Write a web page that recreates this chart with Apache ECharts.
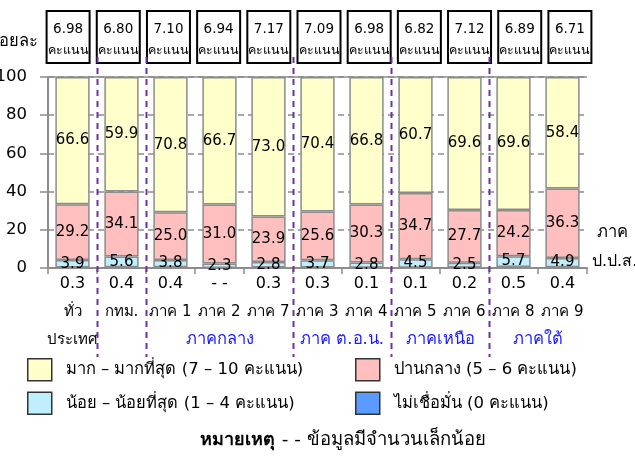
<!DOCTYPE html>
<html>
<head>
<meta charset="utf-8">
<script src="https://cdn.jsdelivr.net/npm/echarts@6/dist/echarts.min.js"></script>
<style>html,body{margin:0;padding:0;background:#fff;}#c{width:635px;height:461px;}</style>
</head>
<body>
<div id="c"></div>
<script>
const categories = ['ทั่วประเทศ', 'กทม.', 'ภาค 1', 'ภาค 2', 'ภาค 7', 'ภาค 3', 'ภาค 4', 'ภาค 5', 'ภาค 6', 'ภาค 8', 'ภาค 9'];
const scores = ['6.98', '6.80', '7.10', '6.94', '7.17', '7.09', '6.98', '6.82', '7.12', '6.89', '6.71'];
const high = [66.6, 59.9, 70.8, 66.7, 73.0, 70.4, 66.8, 60.7, 69.6, 69.6, 58.4];
const medium = [29.2, 34.1, 25.0, 31.0, 23.9, 25.6, 30.3, 34.7, 27.7, 24.2, 36.3];
const low = [3.9, 5.6, 3.8, 2.3, 2.8, 3.7, 2.8, 4.5, 2.5, 5.7, 4.9];
const none = [0.3, 0.4, 0.4, null, 0.3, 0.3, 0.1, 0.1, 0.2, 0.5, 0.4];
const yTicks = [0, 20, 40, 60, 80, 100];
const groups = [
  { name: 'ภาคกลาง', from: 2, to: 4 },
  { name: 'ภาค ต.อ.น.', from: 5, to: 6 },
  { name: 'ภาคเหนือ', from: 7, to: 8 },
  { name: 'ภาคใต้', from: 9, to: 10 }
];
const dividersAfter = [0, 1, 4, 6, 8];
const seriesNames = ['มาก – มากที่สุด (7 – 10 คะแนน)', 'ปานกลาง (5 – 6 คะแนน)', 'น้อย – น้อยที่สุด (1 – 4 คะแนน)', 'ไม่เชื่อมั่น (0 คะแนน)'];

const FONT = "'DejaVu Sans', Tahoma, 'Noto Sans', sans-serif";
const colors = { high: '#FFFFCC', medium: '#FFBFBF', low: '#BFEFFF', none: '#5B9BFF' };
const border = { borderColor: '#8C8C8C', borderWidth: 1.5 };
const label = { show: true, position: 'inside', color: '#000', fontSize: 15, fontFamily: FONT,
  formatter: p => p.value.toFixed(1) };

const chart = echarts.init(document.getElementById('c'), null, { renderer: 'canvas' });

const catLabel = (v, i) => {
  const nv = none[i] == null ? '- -' : none[i].toFixed(1);
  const name = v === 'ทั่วประเทศ' ? '{n|ทั่ว}\n{n|ประเทศ}' : '{n|' + v + '}';
  return '{v|' + nv + '}\n' + name;
};

chart.setOption({
  animation: false,
  textStyle: { fontFamily: FONT },
  grid: [
    { left: 48, right: 48, top: 77, bottom: 193, outerBoundsMode: 'none', containLabel: false },
    { left: 43, right: 40, top: 77, bottom: 193, outerBoundsMode: 'none', containLabel: false }
  ],
  legend: [
    { data: [seriesNames[0], seriesNames[2]], orient: 'vertical', left: 27, top: 358, padding: 0,
      itemWidth: 24, itemHeight: 22, itemGap: 10, icon: 'rect',
      itemStyle: { borderColor: '#333', borderWidth: 1.5 },
      textStyle: { fontSize: 16.5, color: '#000', fontFamily: FONT, padding: [0, 0, 0, 9] } },
    { data: [seriesNames[1], seriesNames[3]], orient: 'vertical', left: 355, top: 358, padding: 0,
      itemWidth: 24, itemHeight: 22, itemGap: 10, icon: 'rect',
      itemStyle: { borderColor: '#333', borderWidth: 1.5 },
      textStyle: { fontSize: 16.5, color: '#000', fontFamily: FONT, padding: [0, 0, 0, 9] } }
  ],
  xAxis: [
    { type: 'category', data: categories, gridIndex: 0,
      axisLine: { lineStyle: { color: '#8C8C8C', width: 2 } },
      axisTick: { show: true, length: 6, lineStyle: { color: '#8C8C8C', width: 1.5 } },
      axisLabel: { margin: 2, interval: 0, formatter: catLabel,
        rich: { v: { fontSize: 16, lineHeight: 28, color: '#000', fontFamily: FONT },
                n: { fontSize: 15, lineHeight: 28, color: '#000', fontFamily: FONT } } } },
    { type: 'category', data: scores, gridIndex: 1, position: 'top',
      axisLine: { show: false }, axisTick: { show: false },
      axisLabel: { margin: 14, interval: 0,
        formatter: v => '{s|' + v + '}\n{u|คะแนน}',
        borderColor: '#000', borderWidth: 2, padding: [7, 1, 1, 1],
        rich: { s: { fontSize: 13.5, lineHeight: 22, color: '#000', fontFamily: FONT, align: 'center' },
                u: { fontSize: 12.5, lineHeight: 22, color: '#000', fontFamily: FONT, align: 'center' } } } }
  ],
  yAxis: [
    { type: 'value', gridIndex: 0, min: yTicks[0], max: yTicks[yTicks.length - 1], interval: 20,
      name: 'ร้อยละ', nameLocation: 'end', nameGap: 27,
      nameTextStyle: { fontSize: 16.5, color: '#000', align: 'right', padding: [0, 10, 0, 0], fontFamily: FONT },
      axisLine: { show: true, lineStyle: { color: '#8C8C8C', width: 2 } },
      axisTick: { show: true, length: 8, lineStyle: { color: '#8C8C8C', width: 1.5 } },
      axisLabel: { fontSize: 16.5, color: '#000', margin: 21, fontFamily: FONT },
      splitLine: { show: true, lineStyle: { color: '#8C8C8C', type: [6, 4], width: 1.5 } } },
    { type: 'value', gridIndex: 1, show: false }
  ],
  series: [
    { name: seriesNames[3], type: 'bar', stack: 'a', data: none, barCategoryGap: '30%',
      itemStyle: Object.assign({ color: colors.none }, border) },
    { name: seriesNames[2], type: 'bar', stack: 'a', data: low,
      itemStyle: Object.assign({ color: colors.low }, border), label: label },
    { name: seriesNames[1], type: 'bar', stack: 'a', data: medium,
      itemStyle: Object.assign({ color: colors.medium }, border), label: label },
    { name: seriesNames[0], type: 'bar', stack: 'a', data: high,
      itemStyle: Object.assign({ color: colors.high }, border), label: label,
      markLine: { silent: true, symbol: 'none', label: { show: false },
        lineStyle: { color: '#8C8C8C', type: 'solid', width: 1.5 }, data: [{ yAxis: 100 }] } }
  ]
});

const px = i => chart.convertToPixel({ xAxisIndex: 0 }, i);
const step = px(1) - px(0);
const graphics = [];
dividersAfter.forEach(i => {
  const x = Math.round(px(i) + step / 2) + 0.5;
  graphics.push({ type: 'line', z: 10, shape: { x1: x, y1: 57, x2: x, y2: 357 },
    style: { stroke: '#7030A0', lineWidth: 2, lineDash: [6, 5] } });
});
groups.forEach(g => {
  graphics.push({ type: 'text', z: 10, x: (px(g.from) + px(g.to)) / 2, y: 340,
    style: { text: g.name, fill: '#1A1AFF', fontSize: 16.5, fontFamily: FONT, align: 'center', verticalAlign: 'middle' } });
});
const yBottom = chart.convertToPixel({ yAxisIndex: 0 }, 0);
graphics.push({ type: 'text', x: 597, y: yBottom - 35,
  style: { text: 'ภาค', fill: '#000', fontSize: 16.5, fontFamily: FONT, align: 'left', verticalAlign: 'middle' } });
graphics.push({ type: 'text', x: 592, y: yBottom - 6,
  style: { text: 'ป.ป.ส.', fill: '#000', fontSize: 16, fontFamily: FONT, align: 'left', verticalAlign: 'middle' } });
graphics.push({ type: 'text', x: 200, y: 440,
  style: { text: '{b|หมายเหตุ}  {r|- - ข้อมูลมีจำนวนเล็กน้อย}', align: 'left', verticalAlign: 'middle',
    rich: { b: { fontSize: 18, fontWeight: 'bold', fill: '#000', fontFamily: FONT },
            r: { fontSize: 18.5, fill: '#000', fontFamily: FONT } } } });
chart.setOption({ graphic: graphics });
</script>
</body>
</html>
